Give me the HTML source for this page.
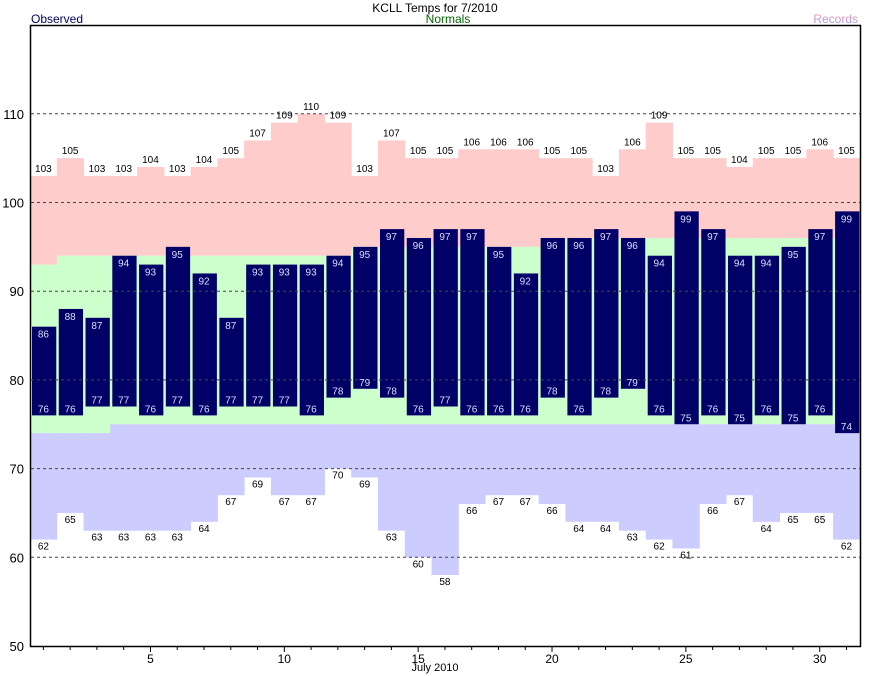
<!DOCTYPE html>
<html><head><meta charset="utf-8"><style>html,body{margin:0;padding:0;background:#fff}svg{display:block}</style></head>
<body>
<svg id="c" width="870" height="676" xmlns="http://www.w3.org/2000/svg" font-family="'Liberation Sans', 'DejaVu Sans', sans-serif">
<defs><linearGradient id="rg" x1="0" y1="0" x2="0" y2="1"><stop offset="0" stop-color="#ff9999"/><stop offset="1" stop-color="#9999ff"/></linearGradient></defs>
<rect width="870" height="676" fill="#fff"/>
<g id="bands"></g><g id="bars"></g><g id="grid"></g><g id="lbl"></g>
<rect x="30.5" y="25.5" width="830" height="621" fill="none" stroke="#000" stroke-width="1.5"/>
<text x="435" y="12" text-anchor="middle" font-size="12" fill="#000">KCLL Temps for 7/2010</text>
<text x="448" y="23" text-anchor="middle" font-size="12" fill="#006600">Normals</text>
<text x="31" y="23" font-size="12" fill="#000066">Observed</text>
<text x="858" y="23" text-anchor="end" font-size="12" fill="url(#rg)">Records</text>
<text x="435" y="671" text-anchor="middle" font-size="11">July 2010</text>
</svg>
<script>
const rh=[103,105,103,103,104,103,104,105,107,109,110,109,103,107,105,105,106,106,106,105,105,103,106,109,105,105,104,105,105,106,105];
const rl=[62,65,63,63,63,63,64,67,69,67,67,70,69,63,60,58,66,67,67,66,64,64,63,62,61,66,67,64,65,65,62];
const oh=[86,88,87,94,93,95,92,87,93,93,93,94,95,97,96,97,97,95,92,96,96,97,96,94,99,97,94,94,95,97,99];
const ol=[76,76,77,77,76,77,76,77,77,77,76,78,79,78,76,77,76,76,76,78,76,78,79,76,75,76,75,76,75,76,74];
const nh=[],nl=[];
for(let d=1;d<=31;d++){nh.push(d==1?93:d<=12?94:d<=20?95:96);nl.push(d<=3?74:75);}
const Y=v=>646-(v-50)*8.87, W=26.77, X=d=>30+(d-1)*W;
const ns="http://www.w3.org/2000/svg";
function el(p,t,a,txt){const e=document.createElementNS(ns,t);for(const k in a)e.setAttribute(k,a[k]);if(txt!==undefined)e.textContent=txt;document.getElementById(p).appendChild(e);}
for(let i=0;i<31;i++){const d=i+1,x=X(d);
 el('bands','rect',{x:x,y:Y(rh[i]),width:W+0.5,height:Y(nh[i])-Y(rh[i]),fill:'#ffcccc'});
 el('bands','rect',{x:x,y:Y(nh[i]),width:W+0.5,height:Y(nl[i])-Y(nh[i]),fill:'#ccffcc'});
 el('bands','rect',{x:x,y:Y(nl[i]),width:W+0.5,height:Y(rl[i])-Y(nl[i]),fill:'#ccccff'});
 el('bars','rect',{x:x+2,y:Y(oh[i]),width:W-2.5,height:Y(ol[i])-Y(oh[i]),fill:'#000066'});
 const cx=x+W/2;
 el('lbl','text',{x:cx,y:Y(oh[i])+11,'text-anchor':'middle','font-size':'10',fill:'#ddddff'},oh[i]);
 el('lbl','text',{x:cx,y:Y(ol[i])-3,'text-anchor':'middle','font-size':'10',fill:'#ddddff'},ol[i]);
 el('lbl','text',{x:cx,y:Y(rh[i])-4,'text-anchor':'middle','font-size':'10',fill:'#000'},rh[i]);
 el('lbl','text',{x:cx,y:Y(rl[i])+10,'text-anchor':'middle','font-size':'10',fill:'#000'},rl[i]);
 el('grid','line',{x1:cx,x2:cx,y1:646,y2:d%5==0?652:650,stroke:'#000','stroke-width':1});
 if(d%5==0)el('grid','text',{x:cx,y:663,'text-anchor':'middle','font-size':'12'},d);
}
for(let v=50;v<=110;v+=10){
 if(v>50)el('grid','line',{x1:31,x2:860,y1:Y(v),y2:Y(v),stroke:'#444','stroke-dasharray':'3,3','stroke-width':1});
 el('grid','text',{x:24,y:Y(v)+5,'text-anchor':'end','font-size':'13'},v);
}
</script>
</body></html>
